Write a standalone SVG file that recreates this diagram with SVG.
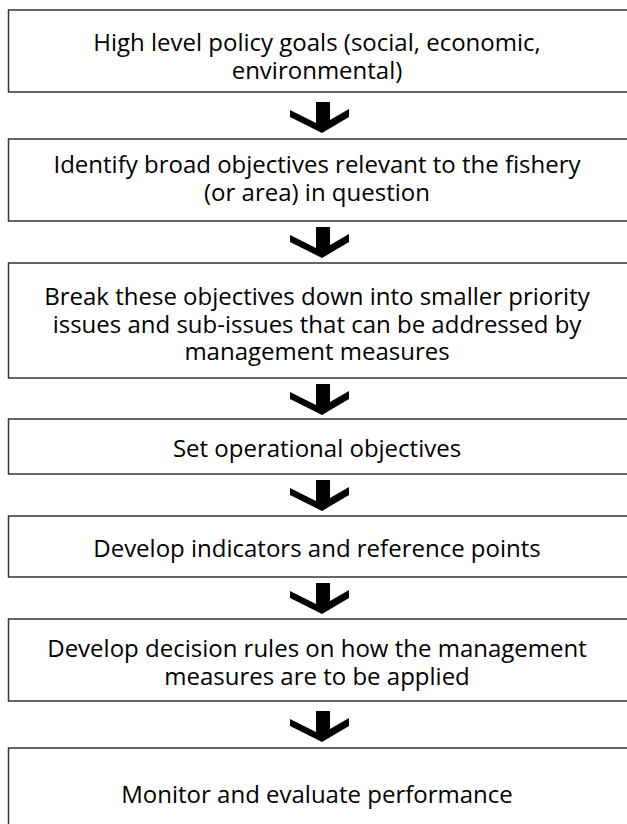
<svg xmlns="http://www.w3.org/2000/svg" xmlns:xlink="http://www.w3.org/1999/xlink" width="627" height="824" viewBox="0 0 627 824">
  <style>
    .box { fill: #ffffff; stroke: #333333; stroke-width: 1.5; }
    .lbl { font-family: "Open Sans", "Noto Sans", "Liberation Sans", sans-serif; font-size: 24px; fill: #000000; text-anchor: middle; }
    .arr { fill: #000000; }
  </style>
  <defs>
    <polygon id="downArrow" points="316,0 330,0 330,18 349,7 349,15 322,31 290,15 290,8 316,21"/>
  </defs>
  <rect x="0" y="0" width="627" height="824" fill="#ffffff"/>
  <g id="connectors" class="arr">
    <use xlink:href="#downArrow" href="#downArrow" transform="translate(0,102)"/>
    <use xlink:href="#downArrow" href="#downArrow" transform="translate(0,227)"/>
    <use xlink:href="#downArrow" href="#downArrow" transform="translate(0,384)"/>
    <use xlink:href="#downArrow" href="#downArrow" transform="translate(0,480)"/>
    <use xlink:href="#downArrow" href="#downArrow" transform="translate(0,583)"/>
    <use xlink:href="#downArrow" href="#downArrow" transform="translate(0,711)"/>
  </g>
  <g id="node1">
    <rect class="box" x="8.5" y="10" width="620" height="82"/>
    <text class="lbl" x="317" y="51">High level policy goals (social, economic,</text>
    <text class="lbl" x="317" y="79">environmental)</text>
  </g>
  <g id="node2">
    <rect class="box" x="8.5" y="139" width="620" height="82"/>
    <text class="lbl" x="317" y="173">Identify broad objectives relevant to the fishery</text>
    <text class="lbl" x="317" y="201">(or area) in question</text>
  </g>
  <g id="node3">
    <rect class="box" x="8.5" y="263" width="620" height="115"/>
    <text class="lbl" x="317" y="305">Break these objectives down into smaller priority</text>
    <text class="lbl" x="317" y="332.5">issues and sub-issues that can be addressed by</text>
    <text class="lbl" x="317" y="360">management measures</text>
  </g>
  <g id="node4">
    <rect class="box" x="8.5" y="419" width="620" height="55"/>
    <text class="lbl" x="317" y="457">Set operational objectives</text>
  </g>
  <g id="node5">
    <rect class="box" x="8.5" y="516" width="620" height="61"/>
    <text class="lbl" x="317" y="556.5">Develop indicators and reference points</text>
  </g>
  <g id="node6">
    <rect class="box" x="8.5" y="619" width="620" height="82"/>
    <text class="lbl" x="317" y="656.5">Develop decision rules on how the management</text>
    <text class="lbl" x="317" y="684.5">measures are to be applied</text>
  </g>
  <g id="node7">
    <rect class="box" x="8.5" y="748" width="620" height="90"/>
    <text class="lbl" x="317" y="803">Monitor and evaluate performance</text>
  </g>
</svg>
